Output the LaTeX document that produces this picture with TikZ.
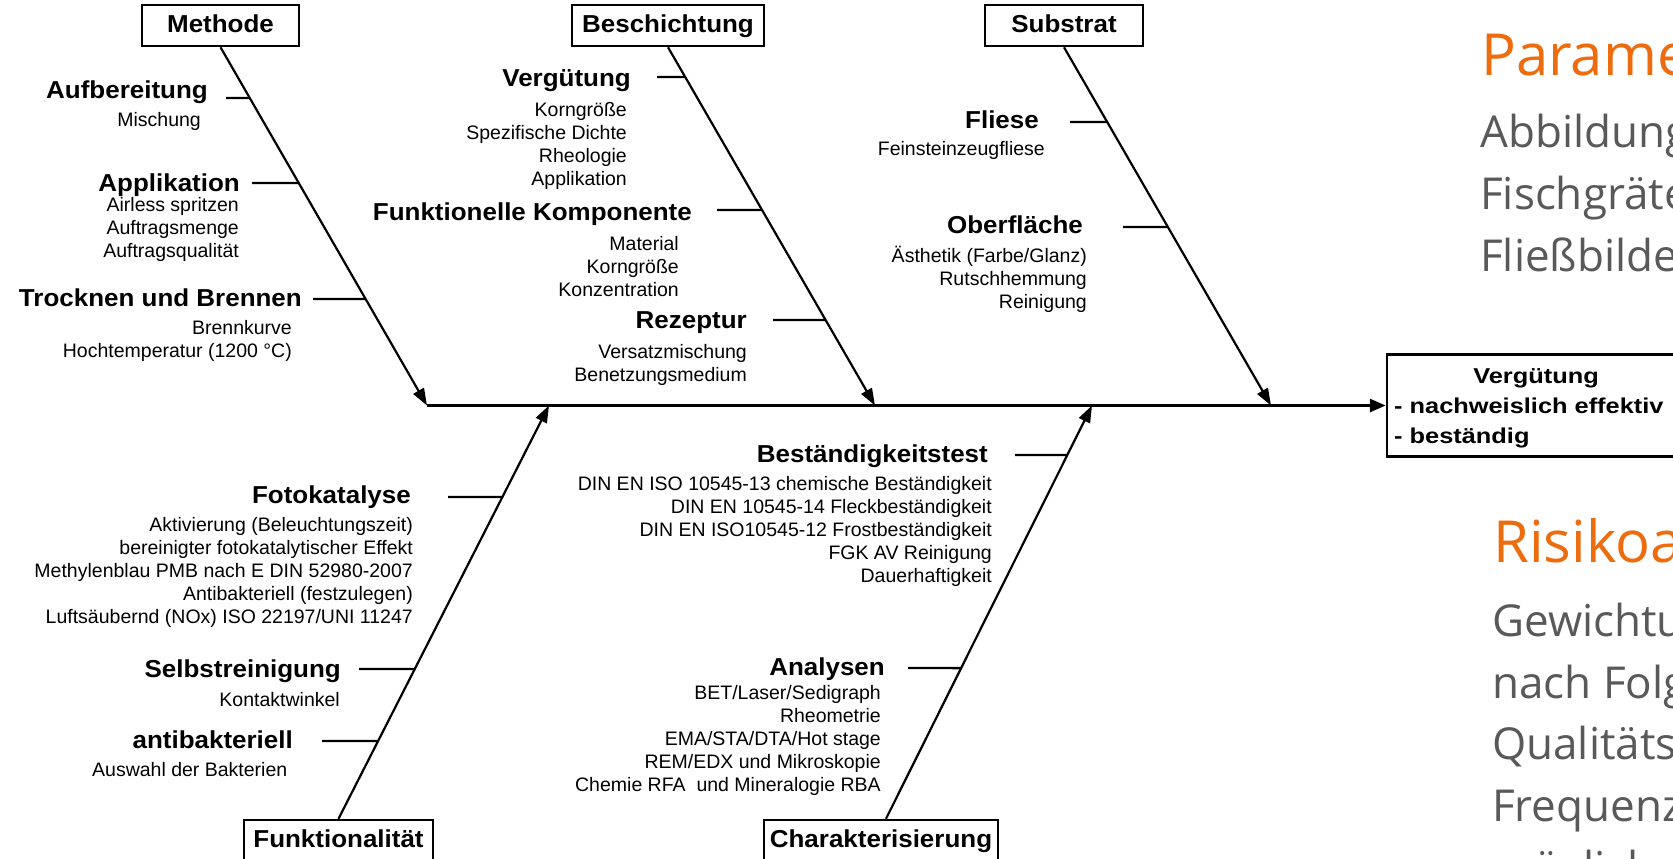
\documentclass[tikz,border=0pt]{standalone}
\usepackage{fontspec}
\setmainfont{Liberation Sans}
\newfontfamily\labfont{Liberation Sans}[FakeStretch=1.06]
\newfontfamily\zielfont{Liberation Sans}[FakeStretch=1.18]
\newfontfamily\slidefont{Open Sans}
\usetikzlibrary{arrows.meta}
\definecolor{slideorange}{RGB}{236,108,14}
\definecolor{slidegray}{RGB}{89,89,89}

% rib from a cause label to its bone: name, bone start, bone end, x, y
\newcommand\ribto[5]{%
  \coordinate (#1) at (#4,#5);
  \coordinate (#1h) at (3000,#5);
  \draw[rib] (#1) -- (intersection of #2--#3 and #1--#1h);}

\begin{document}
\begin{tikzpicture}[x=1pt,y=-1pt,
  bone/.style={line width=2.2pt, -{Triangle[length=17pt,width=12pt]}},
  spine/.style={line width=3pt, -{Triangle[length=16pt,width=13pt]}},
  rib/.style={line width=2.4pt},
  catbox/.style={draw, line width=2.5pt, inner sep=0pt, text height=18pt,
    text depth=4pt, minimum height=41pt,
    font=\labfont\bfseries\fontsize{24.5}{29}\selectfont},
  causelab/.style={anchor=base east, inner sep=0pt,
    font=\labfont\bfseries\fontsize{24.5}{29}\selectfont},
  % multi-line nodes: the base anchor sits on the last line
  detail/.style={anchor=base east, inner sep=0pt, align=right,
    font=\fontsize{19.5}{22.9}\selectfont},
  headline/.style={anchor=base west, inner sep=0pt, text=slideorange,
    font=\slidefont\fontsize{58}{70}\selectfont},
  bodytext/.style={anchor=base west, inner sep=0pt, align=left, text=slidegray,
    font=\slidefont\fontsize{44}{61.6}\selectfont},
  ]
\useasboundingbox (0,0) rectangle (1673,859);
\clip (0,0) rectangle (1673,859);

% category boxes
\node[catbox, minimum width=157pt] (methode) at (220.5,25.5) {Methode};
\node[catbox, minimum width=192pt] (beschichtung) at (668,25.5) {Beschichtung};
\node[catbox, minimum width=158pt] (substrat) at (1064,25.5) {Substrat};
\node[catbox, minimum width=189pt] (funktion) at (338.5,840.5) {Funktionalität};
\node[catbox, minimum width=234pt] (charakter) at (881,840.5) {Charakterisierung};

% effect box
\node[draw, line width=2.5pt, minimum width=298pt, minimum height=102pt,
  inner sep=0pt] (ziel) at (1536,405.5) {};
\node[anchor=base, inner sep=0pt,
  font=\zielfont\bfseries\fontsize{21.5}{26}\selectfont] (zieltitel) at (1536,383) {Vergütung};
\node[anchor=base west, inner sep=0pt,
  font=\zielfont\bfseries\fontsize{21.5}{26}\selectfont] (ziela) at (1394,413) {- nachweislich effektiv};
\node[anchor=base west, inner sep=0pt,
  font=\zielfont\bfseries\fontsize{21.5}{26}\selectfont] (zielb) at (1394,443) {- beständig};

% bones meeting the spine
\coordinate (mtop) at (methode.south);
\coordinate (btop) at (beschichtung.south);
\coordinate (stop) at (substrat.south);
\coordinate (ftop) at (funktion.north);
\coordinate (ctop) at ([xshift=5pt]charakter.north);
\coordinate (mtip) at (427,405.5);
\coordinate (btip) at (875,405.5);
\coordinate (stip) at (1271,405.5);
\coordinate (ftip) at (549,405.5);
\coordinate (ctip) at (1092,405.5);

\draw[spine] (mtip) -- (ziel.west);
\draw[bone] (methode.south) -- (mtip);
\draw[bone] (beschichtung.south) -- (btip);
\draw[bone] (substrat.south) -- (stip);
\draw[bone] (funktion.north) -- (ftip);
\draw[bone] (ctop) -- (ctip);

% Methode
\node[causelab] (aufb) at (208,99) {Aufbereitung};
\node[detail] (aufbd) at (201,126) {Mischung};
\ribto{raufb}{mtop}{mtip}{226}{98}
\node[causelab] (appl) at (240,191) {Applikation};
\node[detail] (appld) at (239,257) {Airless spritzen\\Auftragsmenge\\Auftragsqualität};
\ribto{rappl}{mtop}{mtip}{252}{183}
\node[causelab] (trock) at (302,306) {Trocknen und Brennen};
\node[detail] (trockd) at (292,357) {Brennkurve\\Hochtemperatur (1200 °C)};
\ribto{rtrock}{mtop}{mtip}{313}{299}

% Beschichtung
\node[causelab] (verg) at (631,86) {Vergütung};
\node[detail] (vergd) at (627,185) {Korngröße\\Spezifische Dichte\\Rheologie\\Applikation};
\ribto{rverg}{btop}{btip}{657}{77}
\node[causelab] (funkk) at (692,220) {Funktionelle Komponente};
\node[detail] (funkkd) at (679,296) {Material\\Korngröße\\Konzentration};
\ribto{rfunkk}{btop}{btip}{717}{210}
\node[causelab] (rez) at (747,328) {Rezeptur};
\node[detail] (rezd) at (747,381) {Versatzmischung\\Benetzungsmedium};
\ribto{rrez}{btop}{btip}{773}{320}

% Substrat
\node[causelab] (fliese) at (1039,128) {Fliese};
\node[detail] (fliesed) at (1045,155) {Feinsteinzeugfliese};
\ribto{rfliese}{stop}{stip}{1070}{122}
\node[causelab] (ober) at (1083,233) {Oberfläche};
\node[detail] (oberd) at (1087,308) {Ästhetik (Farbe/Glanz)\\Rutschhemmung\\Reinigung};
\ribto{rober}{stop}{stip}{1123}{227}

% Funktionalität
\node[causelab] (foto) at (411,503) {Fotokatalyse};
\node[detail] (fotod) at (413,623) {Aktivierung (Beleuchtungszeit)\\bereinigter fotokatalytischer Effekt\\Methylenblau PMB nach E DIN 52980-2007\\Antibakteriell (festzulegen)\\Luftsäubernd (NOx) ISO 22197/UNI 11247};
\ribto{rfoto}{ftop}{ftip}{448}{497}
\node[causelab] (selbst) at (341,677) {Selbstreinigung};
\node[detail] (selbstd) at (340,706) {Kontaktwinkel};
\ribto{rselbst}{ftop}{ftip}{359}{669}
\node[causelab] (antib) at (293,748) {antibakteriell};
\node[detail] (antibd) at (287.5,776) {Auswahl der Bakterien};
\ribto{rantib}{ftop}{ftip}{322}{741}

% Charakterisierung
\node[causelab] (best) at (988,462) {Beständigkeitstest};
\node[detail] (bestd) at (992,582) {DIN EN ISO 10545-13 chemische Beständigkeit\\DIN EN 10545-14 Fleckbeständigkeit\\DIN EN ISO10545-12 Frostbeständigkeit\\FGK AV Reinigung\\Dauerhaftigkeit};
\ribto{rbest}{ctop}{ctip}{1015}{455}
\node[causelab] (anal) at (885,675) {Analysen};
\node[detail] (anald) at (881,791) {BET/Laser/Sedigraph\\Rheometrie\\EMA/STA/DTA/Hot stage\\REM/EDX und Mikroskopie\\Chemie RFA~ und Mineralogie RBA};
\ribto{ranal}{ctop}{ctip}{908}{668}

% slide text on the right
\node[headline] (partitel) at (1481,76) {Parameter};
\node[bodytext] (partext) at (1480,271) {Abbildung\\Fischgräten\\Fließbilder};
\node[headline] (risiko) at (1493,562) {Risikoanalyse};
\node[bodytext] (risikotext) at (1492,883) {Gewichtung\\nach Folgen\\Qualitäts\\Frequenz\\möglich};
\end{tikzpicture}
\end{document}
